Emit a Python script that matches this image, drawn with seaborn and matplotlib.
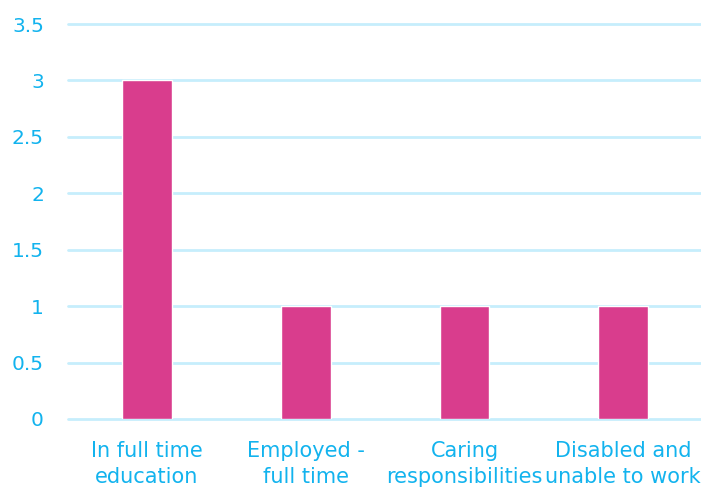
import matplotlib
matplotlib.use("Agg")
import matplotlib.pyplot as plt
import seaborn as sns
import pandas as pd

categories = ["In full time\neducation", "Employed -\nfull time", "Caring\nresponsibilities", "Disabled and\nunable to work"]
values = [3, 1, 1, 1]
yticks = [0, 0.5, 1, 1.5, 2, 2.5, 3, 3.5]
ytick_labels = ["0", "0.5", "1", "1.5", "2", "2.5", "3", "3.5"]

sns.set_theme(style="white")
plt.rcParams['font.family'] = ['DejaVu Sans']

text_color = "#12B3EE"
df = pd.DataFrame({"cat": categories, "val": values})

fig = plt.figure(figsize=(7.01, 4.90), dpi=100)
ax = fig.add_axes([0.0963, 0.1449, 0.906, 0.806])
sns.barplot(data=df, x="cat", y="val", color="#D93D8D", width=0.314, saturation=1, ax=ax, zorder=3)
ax.set_ylim(0, 3.5)
ax.set_xlim(-0.5, 3.5)
ax.set_yticks(yticks)
ax.set_yticklabels(ytick_labels)
ax.yaxis.grid(True, color="#C6EEFC", linewidth=2, zorder=0)
for gl in ax.yaxis.get_gridlines():
    gl.set_clip_on(False)
ax.set_axisbelow(True)
for s in ax.spines.values():
    s.set_visible(False)
ax.set_xlabel("")
ax.set_ylabel("")
ax.tick_params(axis="both", length=0, colors=text_color)
ax.tick_params(axis="y", pad=17, labelsize=14.5)
ax.tick_params(axis="x", pad=16, labelsize=15)
for lab in ax.get_xticklabels():
    lab.set_linespacing(1.35)
fig.savefig("out.png", dpi=100)
